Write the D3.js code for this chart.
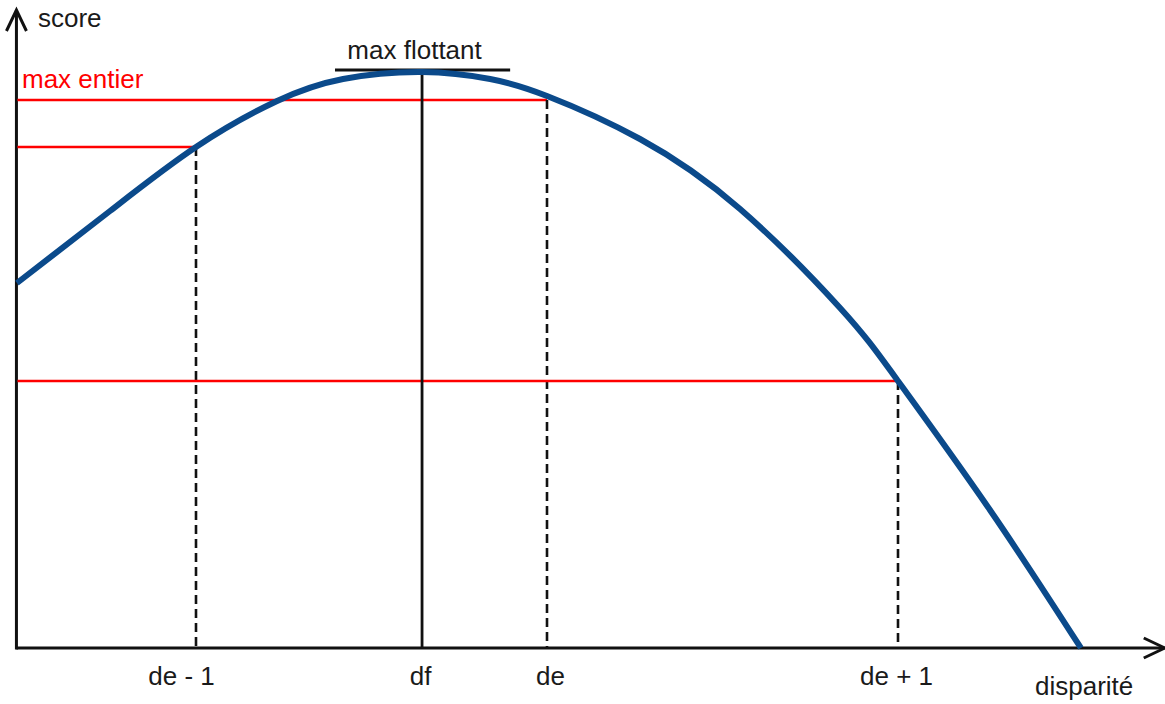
<!DOCTYPE html>
<html>
<head>
<meta charset="utf-8">
<script src="https://cdn.jsdelivr.net/npm/d3@7"></script>
<style>
  body { margin: 0; background: #fff; }
  text { font-family: "Liberation Sans", Arial, sans-serif; font-size: 26px; fill: #1a1a1a; }
</style>
</head>
<body>
<svg id="chart" width="1165" height="704"></svg>
<script>
"use strict";

// disparity units: de - 1 = 1, de = 2, de + 1 = 3
var curveX = [0.49, 0.755, 1.0, 1.231, 1.419, 1.644, 1.838, 2.0, 2.265, 2.55, 2.835, 3.0, 3.262, 3.521];
var curveY = [3.65, 4.37, 5.01, 5.47, 5.69, 5.76, 5.69, 5.52, 5.09, 4.39, 3.40, 2.67, 1.38, 0.0];

var tickValues = [1, 1.644, 2, 3];
var tickLabels = ["de - 1", "df", "de", "de + 1"];
var tickShift = [-15, -2, 3, -2];

// integer disparities and their scores (red levels, dashed drops)
var integerX = [1, 2, 3];
var integerY = [5.01, 5.48, 2.67];

var dfX = 1.644;
var maxScore = 5.78;
var tangentX = [1.396, 1.895];

var xMin = 0.487, xMax = 3.76;
var yMax = 6.38;

var svg = d3.select("#chart");
var x = d3.scaleLinear().domain([1, 3]).range([196, 898]);
var y = d3.scaleLinear().domain([0, 1]).range([648, 548]);

var x0 = x(xMin) + 0.5, y0 = y(0);

// axes
svg.append("line").attr("x1", x0).attr("y1", y0).attr("x2", x(xMax)).attr("y2", y0)
    .attr("stroke", "#111").attr("stroke-width", 3);
svg.append("line").attr("x1", x0).attr("y1", y0 + 1.5).attr("x2", x0).attr("y2", y(yMax))
    .attr("stroke", "#111").attr("stroke-width", 3);
svg.append("path")
    .attr("d", "M" + (x(xMax) - 21) + "," + (y0 - 10) + "L" + x(xMax) + "," + y0 + "L" + (x(xMax) - 21) + "," + (y0 + 10))
    .attr("fill", "none").attr("stroke", "#111").attr("stroke-width", 3);
svg.append("path")
    .attr("d", "M" + (x0 - 10) + "," + (y(yMax) + 21) + "L" + x0 + "," + y(yMax) + "L" + (x0 + 10) + "," + (y(yMax) + 21))
    .attr("fill", "none").attr("stroke", "#111").attr("stroke-width", 3);

// red levels
integerX.forEach(function (d, i) {
    svg.append("line")
        .attr("x1", x0 + 1).attr("x2", x(d))
        .attr("y1", y(integerY[i])).attr("y2", y(integerY[i]))
        .attr("stroke", "#ff0000").attr("stroke-width", 2.5);
    svg.append("line")
        .attr("x1", x(d)).attr("x2", x(d))
        .attr("y1", y(integerY[i])).attr("y2", y0)
        .attr("stroke", "#111").attr("stroke-width", 2.6)
        .attr("stroke-dasharray", "9,5");
});

// df vertical and tangent at the float max
svg.append("line")
    .attr("x1", x(dfX)).attr("x2", x(dfX))
    .attr("y1", y(maxScore)).attr("y2", y0)
    .attr("stroke", "#111").attr("stroke-width", 2.8);
svg.append("line")
    .attr("x1", x(tangentX[0])).attr("x2", x(tangentX[1]))
    .attr("y1", y(maxScore)).attr("y2", y(maxScore))
    .attr("stroke", "#111").attr("stroke-width", 2.8);

// the score curve
var line = d3.line()
    .x(function (d, i) { return x(curveX[i]); })
    .y(function (d, i) { return y(curveY[i]); })
    .curve(d3.curveNatural);
svg.append("path")
    .attr("d", line(curveX))
    .attr("fill", "none")
    .attr("stroke", "#0b4a8b")
    .attr("stroke-width", 6);

// tick labels
var xAxis = d3.axisBottom(x).tickValues(tickValues).tickSize(0).tickPadding(0)
    .tickFormat(function (d, i) { return tickLabels[i]; });
var gX = svg.append("g").attr("transform", "translate(0," + y0 + ")").call(xAxis);
gX.select(".domain").remove();
gX.selectAll("text")
    .attr("y", 37).attr("dy", 0)
    .attr("dx", function (d, i) { return tickShift[i]; })
    .style("font-size", "26px").style("font-family", "'Liberation Sans', Arial, sans-serif")
    .attr("fill", "#1a1a1a");

// annotations
svg.append("text").attr("x", 38).attr("y", 27).text("score");
svg.append("text").attr("x", 1035).attr("y", 695).text("disparité");
svg.append("text").attr("x", 22).attr("y", 88).style("fill", "#ff0000").text("max entier");
svg.append("text").attr("x", (x(tangentX[0]) + x(tangentX[1])) / 2 - 8).attr("y", 59)
    .attr("text-anchor", "middle").text("max flottant");
</script>
</body>
</html>
